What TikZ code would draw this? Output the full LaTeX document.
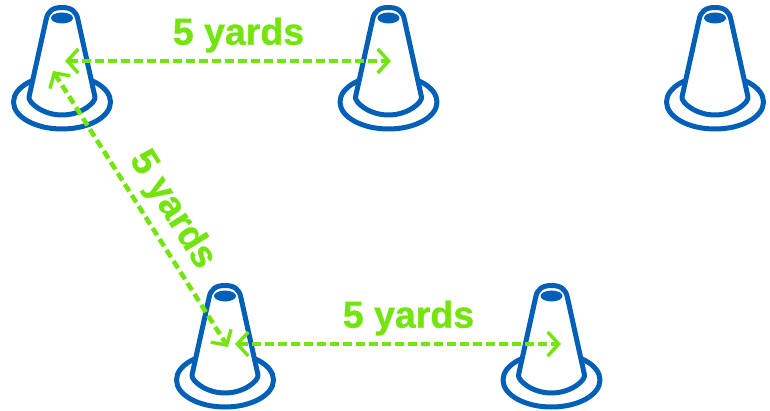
\documentclass[tikz,border=0pt]{standalone}
\usepackage{fontspec}
\setmainfont{Liberation Sans}
\newfontfamily\labelfont[FakeBold=0.9]{Liberation Sans Bold}
\usetikzlibrary{arrows.meta}
\definecolor{coneblue}{HTML}{0060B8}
\definecolor{limegreen}{HTML}{74E40F}
\tikzset{
  x=1pt,y=-1pt,
  coneline/.style={draw=coneblue,line width=5pt,fill=white,line join=round},
  measure/.style={draw=limegreen,line width=4.6pt,dash pattern=on 8.5pt off 4.5pt,
    {Straight Barb[length=11pt,width=24pt,line width=3.4pt,sep=0pt]}-{Straight Barb[length=11pt,width=24pt,line width=3.4pt]}},
  dist/.style={text=limegreen,font=\fontsize{37.5}{38}\labelfont,inner sep=0pt},
  cone/.pic={
    \draw[coneline] (0,-1) ellipse [x radius=48.5,y radius=27];
    \draw[coneline] (-16,-83) .. controls (-14.5,-92) and (-9,-95.5) .. (0,-95.5)
      .. controls (9,-95.5) and (14.5,-92) .. (16,-83)
      -- (33,-6) .. controls (34,-1) and (20,12) .. (0,12)
      .. controls (-20,12) and (-34,-1) .. (-33,-6) -- cycle;
    \fill[coneblue] (0,-85) ellipse [x radius=11,y radius=5.5];
  }
}
\begin{document}
\begin{tikzpicture}
\useasboundingbox (0,0) rectangle (770,411);
\pic at (62,103) {cone};
\pic at (388.5,103) {cone};
\pic at (715,103) {cone};
\pic at (225,381) {cone};
\pic at (551.5,381) {cone};
\coordinate (a1) at (65,61);
\coordinate (a2) at (391,61);
\coordinate (b1) at (53,71);
\coordinate (b2) at (228,347);
\coordinate (c1) at (235,344);
\coordinate (c2) at (561,344);
\draw[measure] (a1) -- (a2);
\draw[measure] (b1) -- (b2);
\draw[measure] (c1) -- (c2);
\node[dist] (la) at (238.5,35) {5 yards};
\node[dist] (lb) at (172,210) [rotate=-58] {5 yards};
\node[dist] (lc) at (408.5,318) {5 yards};
\end{tikzpicture}
\end{document}
